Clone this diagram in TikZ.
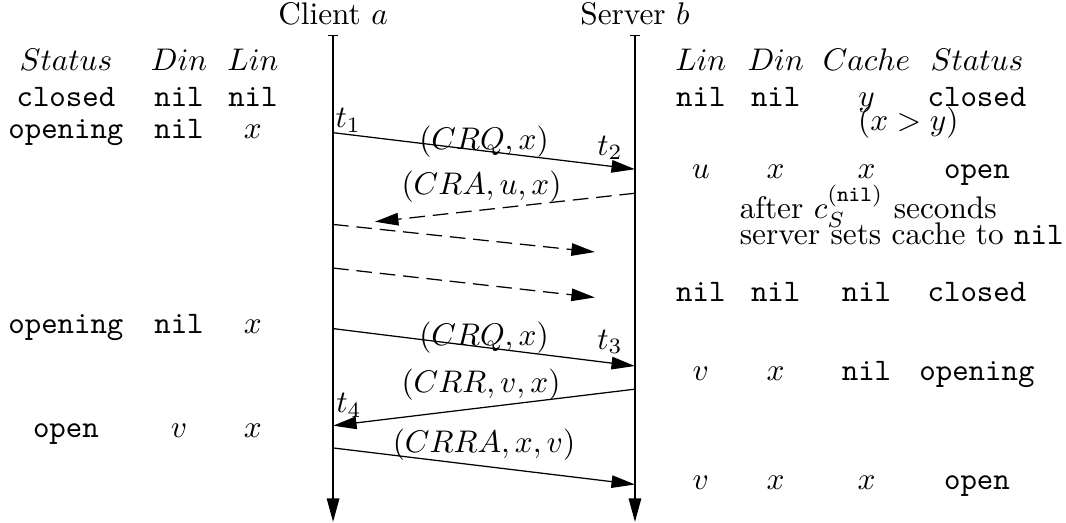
\documentclass[tikz,border=0pt]{standalone}
\usepackage{amsmath}
\usetikzlibrary{arrows.meta}

\newcommand{\tnil}{\texttt{nil}}

\tikzset{
  msg/.style={-{Triangle[length=7.5pt,width=4pt]}},
  lostmsg/.style={msg, dash pattern=on 5pt off 2.5pt},
  life/.style={{Bar[width=3pt]}-{Triangle[length=7.5pt,width=4pt]}},
  cell/.style={anchor=base, inner sep=0pt},
}

\begin{document}
\begin{tikzpicture}
		  \useasboundingbox (0,0) rectangle (11.97,-5.87);
		  % the two parties and their time lines
		  \node[cell] (client) at (3.74,-0.28) {Client $a$};
		  \node[cell] (server) at (7.13,-0.28) {Server $b$};
		  \coordinate (ctop) at (3.74,-0.39);
		  \coordinate (cbot) at (3.74,-5.86);
		  \coordinate (stop) at (7.13,-0.39);
		  \coordinate (sbot) at (7.13,-5.86);
		  \draw[life] (ctop) -- (cbot);
		  \draw[life] (stop) -- (sbot);

		  % events on the time lines
		  \coordinate (a1) at (3.74,-1.49);
		  \coordinate (b1) at (7.13,-1.90);
		  \coordinate (b2) at (7.13,-2.17);
		  \coordinate (x2) at (4.21,-2.49);
		  \coordinate (a3) at (3.74,-2.52);
		  \coordinate (x3) at (6.68,-2.83);
		  \coordinate (a4) at (3.74,-3.01);
		  \coordinate (x4) at (6.68,-3.34);
		  \coordinate (a5) at (3.74,-3.69);
		  \coordinate (b5) at (7.13,-4.11);
		  \coordinate (b6) at (7.13,-4.37);
		  \coordinate (a6) at (3.74,-4.78);
		  \coordinate (a7) at (3.74,-5.03);
		  \coordinate (b7) at (7.13,-5.44);

		  \draw[msg] (a1) -- (b1) node[midway, yshift=3pt] {$(CRQ,x)$};
		  \draw[lostmsg] (b2) -- (x2) node[pos=0.59, above=-1pt] {$(CRA,u,x)$};
		  \draw[lostmsg] (a3) -- (x3);
		  \draw[lostmsg] (a4) -- (x4);
		  \draw[msg] (a5) -- (b5) node[midway, yshift=3pt] {$(CRQ,x)$};
		  \draw[msg] (b6) -- (a6) node[pos=0.51, above=-1pt] {$(CRR,v,x)$};
		  \draw[msg] (a7) -- (b7) node[midway, above=-1.5pt] {$(CRRA,x,v)$};

		  \node (t1) at (3.91,-1.35) {$t_1$};
		  \node (t2) at (6.85,-1.66) {$t_2$};
		  \node (t3) at (6.85,-3.84) {$t_3$};
		  \node (t4) at (3.92,-4.55) {$t_4$};

		  % client table
		  \node[cell] (cs0) at (0.74,-0.79) {$Status$};
		  \node[cell] (cd0) at (2.01,-0.79) {$Din$};
		  \node[cell] (cl0) at (2.84,-0.79) {$Lin$};
		  \node[cell] (cs1) at (0.74,-1.20) {\texttt{closed}};
		  \node[cell] (cd1) at (2.01,-1.20) {\tnil};
		  \node[cell] (cl1) at (2.84,-1.20) {\tnil};
		  \node[cell] (cs2) at (0.74,-1.55) {\texttt{opening}};
		  \node[cell] (cd2) at (2.01,-1.55) {\tnil};
		  \node[cell] (cl2) at (2.84,-1.55) {$x$};
		  \node[cell] (cs3) at (0.74,-3.74) {\texttt{opening}};
		  \node[cell] (cd3) at (2.01,-3.74) {\tnil};
		  \node[cell] (cl3) at (2.84,-3.74) {$x$};
		  \node[cell] (cs4) at (0.74,-4.91) {\texttt{open}};
		  \node[cell] (cd4) at (2.01,-4.91) {$v$};
		  \node[cell] (cl4) at (2.84,-4.91) {$x$};

		  % server table
		  \node[cell] (sl0) at (7.87,-0.79) {$Lin$};
		  \node[cell] (sd0) at (8.71,-0.79) {$Din$};
		  \node[cell] (sc0) at (9.73,-0.79) {$Cache$};
		  \node[cell] (ss0) at (10.97,-0.79) {$Status$};
		  \node[cell] (sl1) at (7.87,-1.20) {\tnil};
		  \node[cell] (sd1) at (8.71,-1.20) {\tnil};
		  \node[cell] (sc1) at (9.73,-1.20) {$y$};
		  \node[cell] (ss1) at (10.97,-1.20) {\texttt{closed}};
		  \node[cell] (cond) at (10.20,-1.46) {$(x>y)$};
		  \node[cell] (sl2) at (7.87,-2.01) {$u$};
		  \node[cell] (sd2) at (8.71,-2.01) {$x$};
		  \node[cell] (sc2) at (9.73,-2.01) {$x$};
		  \node[cell] (ss2) at (10.97,-2.01) {\texttt{open}};
		  \node[cell, anchor=base west] (note1) at (8.30,-2.45) {after $c_S^{(\texttt{nil})}$ seconds};
		  \node[cell, anchor=base west] (note2) at (8.30,-2.74) {server sets cache to \tnil};
		  \node[cell] (sl3) at (7.87,-3.38) {\tnil};
		  \node[cell] (sd3) at (8.71,-3.38) {\tnil};
		  \node[cell] (sc3) at (9.73,-3.38) {\tnil};
		  \node[cell] (ss3) at (10.97,-3.38) {\texttt{closed}};
		  \node[cell] (sl4) at (7.87,-4.27) {$v$};
		  \node[cell] (sd4) at (8.71,-4.27) {$x$};
		  \node[cell] (sc4) at (9.73,-4.27) {\tnil};
		  \node[cell] (ss4) at (10.97,-4.27) {\texttt{opening}};
		  \node[cell] (sl5) at (7.87,-5.50) {$v$};
		  \node[cell] (sd5) at (8.71,-5.50) {$x$};
		  \node[cell] (sc5) at (9.73,-5.50) {$x$};
		  \node[cell] (ss5) at (10.97,-5.50) {\texttt{open}};
		\end{tikzpicture}
\end{document}
